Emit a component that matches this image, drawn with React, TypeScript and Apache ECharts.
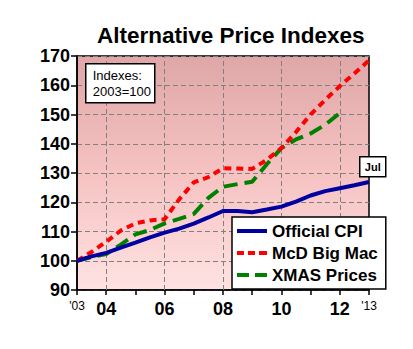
import React, { useEffect, useRef } from "react";
import * as echarts from "echarts";

// Half-year sample positions, 2003 = 100 for every index
const years = [
  2003, 2003.5, 2004, 2004.5, 2005, 2005.5, 2006, 2006.5, 2007, 2007.5, 2008,
  2008.5, 2009, 2009.5, 2010, 2010.5, 2011, 2011.5, 2012, 2012.5, 2013,
];
const officialCpi = [
  100, 101.5, 102.7, 104.5, 106.2, 108, 109.6, 111, 112.7, 114.8, 117, 117,
  116.6, 117.5, 118.5, 120.2, 122.3, 123.8, 124.8, 125.8, 126.9,
];
const bigMac = [
  100, 103, 106.5, 110.3, 112.8, 113.8, 114.2, 121, 126.8, 128.6, 131.6, 131.5,
  131.4, 134.5, 138.5, 144, 150, 155, 159.7, 164, 168.5,
];
const xmasPrices = [
  100, 101.3, 102.3, 105.5, 109, 110.5, 112.8, 114.3, 116, 121.5, 125.3, 126.2,
  127, 133, 138.5, 141.5, 143.5, 146.5, 150.5,
];
const gridYears = [2004, 2006, 2008, 2010, 2012];
const seriesNames = ["Official CPI", "McD Big Mac", "XMAS Prices"];

const FONT = "Liberation Sans, Arial, sans-serif";

// Legend swatches: solid bar, short dashes, long dashes
const ICON_SOLID = "path://M0,0h30v4h-30z";
const ICON_SHORT = "path://M0,0h7v4h-7z M11,0h7v4h-7z M22,0h8v4h-8z";
const ICON_LONG = "path://M0,0h12v4h-12z M18,0h12v4h-12z";

function pairs(values: number[]) {
  return values.map((v, i) => [years[i], v]);
}

export default function App() {
  const ref = useRef<HTMLDivElement>(null);

  useEffect(() => {
    if (!ref.current) return;
    const chart = echarts.init(ref.current, null, { renderer: "svg" });

    chart.setOption({
      animation: false,
      backgroundColor: "#ffffff",
      title: {
        text: "Alternative Price Indexes",
        left: 92,
        top: 19,
        textStyle: {
          fontFamily: FONT,
          fontSize: 22.5,
          fontWeight: "bold",
          color: "#000",
        },
      },
      grid: {
        left: 77,
        right: 44,
        top: 56,
        bottom: 59,
        show: true,
        borderColor: "#000",
        borderWidth: 1.5,
        backgroundColor: new echarts.graphic.LinearGradient(0, 0, 0, 1, [
          { offset: 0, color: "#dfa7a7" },
          { offset: 0.5, color: "#f6c2c2" },
          { offset: 1, color: "#ffe2e2" },
        ]),
      },
      legend: {
        data: [
          { name: seriesNames[0], icon: ICON_SOLID },
          { name: seriesNames[1], icon: ICON_SHORT },
          { name: seriesNames[2], icon: ICON_LONG },
        ],
        orient: "vertical",
        left: 232,
        top: 217,
        padding: [5, 8, 5, 5],
        itemGap: 4,
        itemWidth: 30,
        itemHeight: 4,
        backgroundColor: "#fff",
        borderColor: "#000",
        borderWidth: 1.5,
        textStyle: {
          fontFamily: FONT,
          fontSize: 17,
          fontWeight: "bold",
          color: "#000",
          lineHeight: 18,
        },
      },
      xAxis: {
        type: "value",
        min: 2003,
        max: 2013,
        interval: 1,
        axisLine: { show: true, lineStyle: { color: "#000", width: 1.5 } },
        axisTick: {
          show: true,
          length: 5,
          lineStyle: { color: "#000", width: 1.5 },
        },
        splitLine: { show: false },
        axisLabel: {
          margin: 10,
          formatter: (v: number) => {
            const yy = String(v % 100).padStart(2, "0");
            if (v === 2003 || v === 2013) return "{s|'" + yy + "}";
            if (v % 2 === 0) return "{b|" + yy + "}";
            return "";
          },
          rich: {
            s: {
              fontFamily: FONT,
              fontSize: 12,
              color: "#000",
              verticalAlign: "top",
              padding: [0, 0, 6, 0],
            },
            b: {
              fontFamily: FONT,
              fontSize: 18,
              fontWeight: "bold",
              color: "#000",
            },
          },
        },
      },
      yAxis: {
        type: "value",
        min: 90,
        max: 170,
        interval: 10,
        axisLine: { show: true, lineStyle: { color: "#000", width: 1.5 } },
        axisTick: {
          show: true,
          length: 6,
          lineStyle: { color: "#000", width: 1.5 },
        },
        splitLine: {
          show: true,
          lineStyle: { color: "#808080", type: [5, 3], width: 1 },
        },
        axisLabel: {
          margin: 7,
          fontFamily: FONT,
          fontSize: 18,
          fontWeight: "bold",
          color: "#000",
        },
      },
      series: [
        {
          name: seriesNames[0],
          type: "line",
          data: pairs(officialCpi),
          symbol: "none",
          z: 4,
          lineStyle: { color: "#0000a0", width: 4 },
          itemStyle: { color: "#0000a0" },
          markLine: {
            silent: true,
            symbol: "none",
            label: { show: false },
            z: 1,
            lineStyle: { color: "#808080", type: [5, 3], width: 1 },
            data: gridYears.map((y) => ({ xAxis: y })),
          },
        },
        {
          name: seriesNames[1],
          type: "line",
          data: pairs(bigMac),
          symbol: "none",
          z: 3,
          lineStyle: { color: "#ff0000", width: 4, type: [7, 5] },
          itemStyle: { color: "#ff0000" },
        },
        {
          name: seriesNames[2],
          type: "line",
          data: pairs(xmasPrices),
          symbol: "none",
          z: 2,
          lineStyle: { color: "#008000", width: 4, type: [14, 7] },
          itemStyle: { color: "#008000" },
        },
      ],
      graphic: [
        {
          type: "group",
          left: 85,
          top: 63,
          z: 100,
          children: [
            {
              type: "rect",
              z: 100,
              shape: { x: 0, y: 0, width: 69, height: 39 },
              style: { fill: "#fff", stroke: "#000", lineWidth: 1.5 },
            },
            {
              type: "text",
              z: 101,
              x: 7,
              y: 4,
              style: {
                text: "Indexes:\n2003=100",
                fontFamily: FONT,
                fontSize: 13,
                lineHeight: 16,
                fill: "#000",
              },
            },
          ],
        },
        {
          type: "group",
          left: 359,
          top: 156,
          z: 100,
          children: [
            {
              type: "rect",
              z: 100,
              shape: { x: 0, y: 0, width: 26, height: 20 },
              style: { fill: "#fff", stroke: "#000", lineWidth: 1.5 },
            },
            {
              type: "text",
              z: 101,
              x: 13,
              y: 10,
              style: {
                text: "Jul",
                fontFamily: FONT,
                fontSize: 11,
                fontWeight: "bold",
                fill: "#000",
                align: "center",
                verticalAlign: "middle",
              },
            },
          ],
        },
      ],
    });

    return () => chart.dispose();
  }, []);

  return (
    <div
      ref={ref}
      style={{ position: "fixed", left: 0, top: 0, width: 413, height: 349 }}
    />
  );
}
